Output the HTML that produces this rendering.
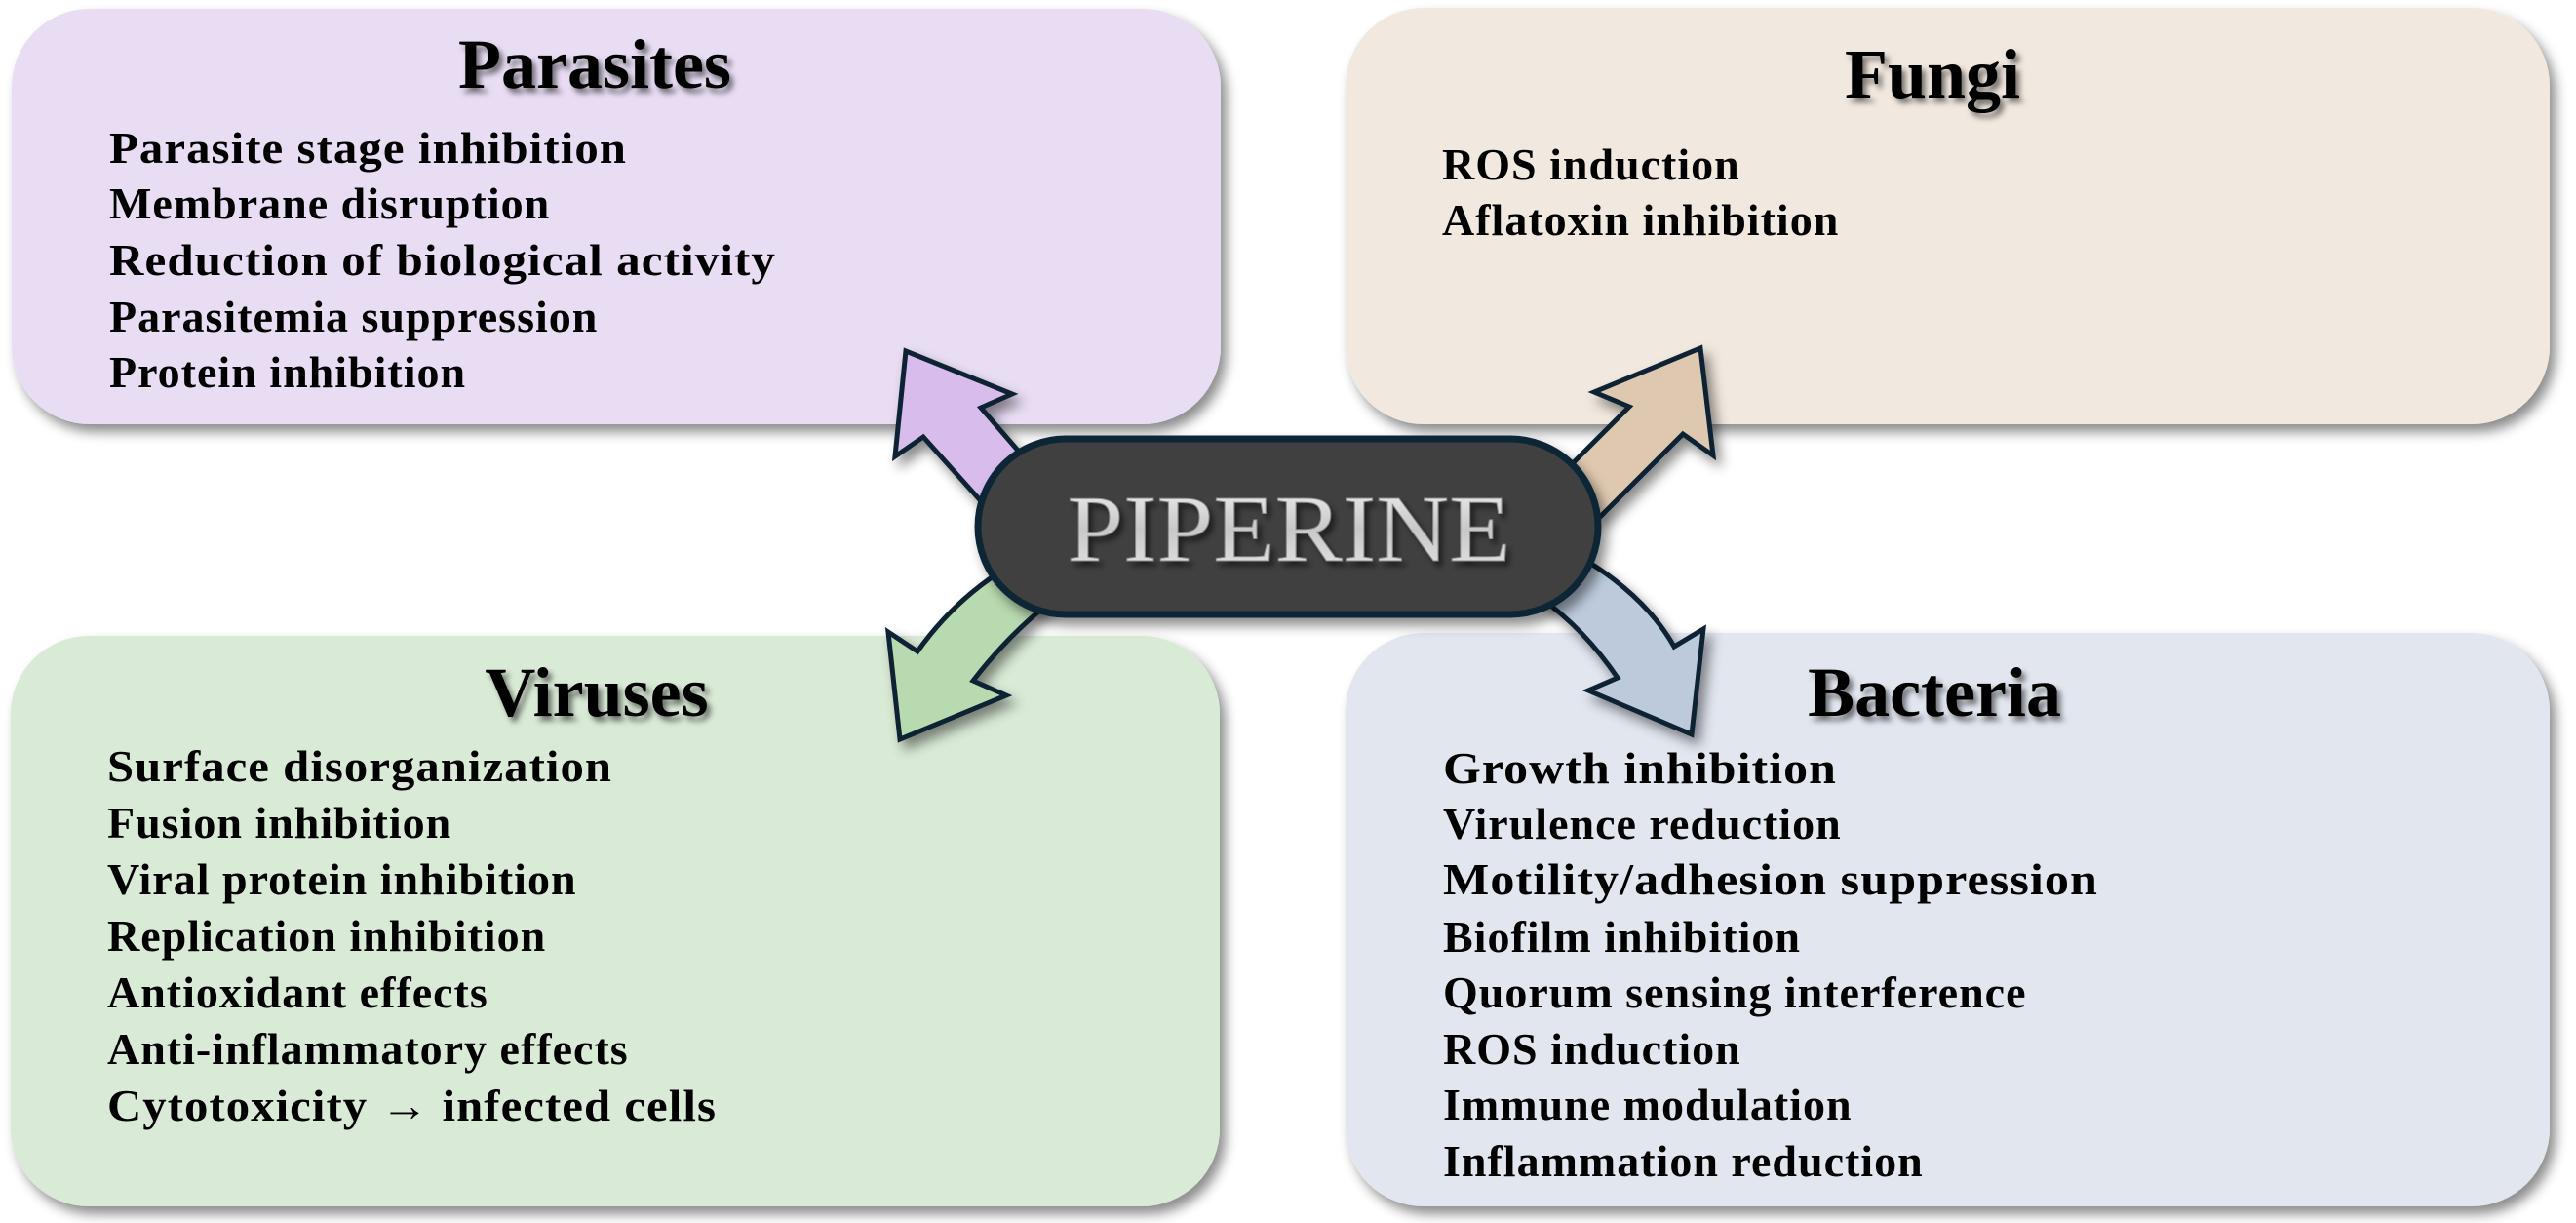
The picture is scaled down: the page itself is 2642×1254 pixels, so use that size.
<!DOCTYPE html>
<html><head><meta charset="utf-8"><style>
html,body{margin:0;padding:0;background:#fff;}
svg{display:block;}
.t{font-family:"Liberation Serif",serif;font-weight:bold;font-size:72px;fill:#000;text-anchor:middle;}
.i{font-family:"Liberation Serif",serif;font-weight:bold;font-size:46px;fill:#000;letter-spacing:1px;}
</style></head><body>
<svg width="2642" height="1254" viewBox="0 0 2642 1254" xmlns="http://www.w3.org/2000/svg">
<defs>
<filter id="sh" x="-5%" y="-5%" width="115%" height="120%"><feDropShadow dx="6" dy="8" stdDeviation="6" flood-color="#000" flood-opacity="0.45"/></filter>
<filter id="ts" x="-10%" y="-20%" width="130%" height="150%"><feDropShadow dx="4" dy="5" stdDeviation="3" flood-color="#000" flood-opacity="0.5"/></filter>
<linearGradient id="sil" x1="0" y1="0" x2="0" y2="1"><stop offset="0" stop-color="#f4f4f4"/><stop offset="0.5" stop-color="#c8c8c8"/><stop offset="1" stop-color="#e8e8e8"/></linearGradient>
</defs>
<!-- boxes -->
<rect x="12" y="9" width="1240" height="426" rx="80" fill="#e9ddf4" filter="url(#sh)"/>
<rect x="1380" y="8" width="1235" height="427" rx="80" fill="#f1e8df" filter="url(#sh)"/>
<rect x="11" y="652" width="1240" height="585" rx="80" fill="#d9ead6" filter="url(#sh)"/>
<rect x="1380" y="649" width="1235" height="588" rx="80" fill="#e1e6ef" filter="url(#sh)"/>
<!-- titles -->
<text class="t" x="610" y="90" filter="url(#ts)">Parasites</text>
<text class="t" x="1982" y="100" filter="url(#ts)">Fungi</text>
<text class="t" x="612" y="734" filter="url(#ts)">Viruses</text>
<text class="t" x="1984" y="734" filter="url(#ts)">Bacteria</text>
<!-- parasites items -->
<text class="i" x="112" y="167" textLength="531" lengthAdjust="spacingAndGlyphs">Parasite stage inhibition</text>
<text class="i" x="112" y="224">Membrane disruption</text>
<text class="i" x="112" y="282" textLength="684" lengthAdjust="spacingAndGlyphs">Reduction of biological activity</text>
<text class="i" x="112" y="340">Parasitemia suppression</text>
<text class="i" x="112" y="397">Protein inhibition</text>
<!-- fungi -->
<text class="i" x="1479" y="184">ROS induction</text>
<text class="i" x="1479" y="241">Aflatoxin inhibition</text>
<!-- viruses -->
<text class="i" x="110" y="801" textLength="518" lengthAdjust="spacingAndGlyphs">Surface disorganization</text>
<text class="i" x="110" y="859">Fusion inhibition</text>
<text class="i" x="110" y="917">Viral protein inhibition</text>
<text class="i" x="110" y="975">Replication inhibition</text>
<text class="i" x="110" y="1033">Antioxidant effects</text>
<text class="i" x="110" y="1091">Anti-inflammatory effects</text>
<text class="i" x="110" y="1149" textLength="625" lengthAdjust="spacingAndGlyphs">Cytotoxicity → infected cells</text>
<!-- bacteria -->
<text class="i" x="1480" y="803" textLength="404" lengthAdjust="spacingAndGlyphs">Growth inhibition</text>
<text class="i" x="1480" y="860">Virulence reduction</text>
<text class="i" x="1480" y="917" textLength="672" lengthAdjust="spacingAndGlyphs">Motility/adhesion suppression</text>
<text class="i" x="1480" y="976">Biofilm inhibition</text>
<text class="i" x="1480" y="1033">Quorum sensing interference</text>
<text class="i" x="1480" y="1091">ROS induction</text>
<text class="i" x="1480" y="1148">Immune modulation</text>
<text class="i" x="1480" y="1206">Inflammation reduction</text>
<!-- arrows -->
<g stroke="#0d2433" stroke-width="5" stroke-linejoin="miter" filter="url(#sh)">
<polygon fill="#d8bcec" points="929,360 1038,404 1006,418 1058,478 1008,516 947,448 918,468"/>
<polygon fill="#dfc8b0" points="1744,357 1757,467 1726,445 1641,530 1604,484 1671,417 1635,402"/>
<path fill="#b8dab0" d="M1023,588 Q975,620 941,668 L911,648 L923,758 L1032,713 L998,698 Q1035,650 1080,615 Z"/>
<path fill="#bccadc" d="M1632,578 Q1690,615 1717,663 L1747,645 L1735,753 L1629,708 L1659,695 Q1625,645 1580,613 Z"/>
</g>
<!-- center -->
<rect x="1003" y="450" width="636" height="180" rx="90" ry="90" fill="#404040" stroke="#0a2535" stroke-width="7" filter="url(#sh)"/>
<text x="1322" y="575" text-anchor="middle" font-family="Liberation Serif,serif" font-size="98" fill="url(#sil)" stroke="#8a8a8a" stroke-width="1" filter="url(#ts)" textLength="455" lengthAdjust="spacingAndGlyphs">PIPERINE</text>
</svg>
</body></html>
